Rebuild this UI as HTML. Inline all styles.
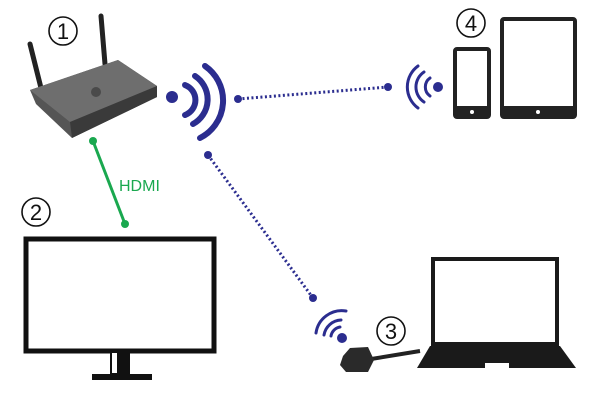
<!DOCTYPE html>
<html><head><meta charset="utf-8"><style>html,body{margin:0;padding:0;background:#fff}svg{display:block}</style></head>
<body>
<svg width="600" height="420" viewBox="0 0 600 420" xmlns="http://www.w3.org/2000/svg" font-family="Liberation Sans, sans-serif">
<g fill="none" stroke="#111" stroke-width="1.6">
<circle cx="63" cy="31" r="14"/><circle cx="36" cy="212" r="14"/><circle cx="391" cy="331" r="14"/><circle cx="471" cy="23" r="14"/>
</g>
<g font-size="22" text-anchor="middle" fill="#111">
<text x="63" y="39">1</text><text x="36" y="220">2</text><text x="391" y="339">3</text><text x="471" y="31">4</text>
</g>
<!-- router -->
<line x1="30" y1="44" x2="42" y2="92" stroke="#222" stroke-width="5" stroke-linecap="round"/>
<line x1="101" y1="16" x2="105" y2="64" stroke="#222" stroke-width="5" stroke-linecap="round"/>
<polygon points="30,90 118,60 157,86 157,97 72,138 36,104" fill="#555"/>
<polygon points="30,90 118,60 157,86 70,122" fill="#6e6e6e"/>
<polygon points="70,122 157,86 157,97 72,138" fill="#3a3a3a"/>
<circle cx="96" cy="92" r="5" fill="#4a4a4a"/>
<!-- HDMI -->
<line x1="93" y1="141" x2="125" y2="224" stroke="#1aa84f" stroke-width="3"/>
<circle cx="93" cy="141" r="4" fill="#1aa84f"/><circle cx="125" cy="224" r="4" fill="#1aa84f"/>
<text x="119" y="191" font-size="16" fill="#1aa84f">HDMI</text>
<!-- big wifi -->
<g fill="none" stroke="#2b2d8f" stroke-width="6" stroke-linecap="round">
<circle cx="172" cy="97" r="6" fill="#2b2d8f" stroke="none"/>
<path d="M185,85 A16,16 0 0 1 185,115"/>
<path d="M195,76 A28,28 0 0 1 193,124"/>
<path d="M205,66 A42,42 0 0 1 200,138"/>
</g>
<g stroke="#2b2d8f" stroke-width="3" stroke-dasharray="2 2.5" fill="none">
<line x1="238" y1="99" x2="388" y2="87"/>
<line x1="208" y1="155" x2="313" y2="298"/>
</g>
<g fill="#2b2d8f">
<circle cx="238" cy="99" r="4"/><circle cx="388" cy="87" r="4"/>
<circle cx="208" cy="155" r="4"/><circle cx="313" cy="298" r="4"/>
<circle cx="438" cy="87" r="5"/><circle cx="342" cy="338" r="5"/>
</g>
<g fill="none" stroke="#2b2d8f" stroke-width="3" stroke-linecap="round">
<path d="M430,78 A11,11 0 0 0 430,96"/>
<path d="M424,72 A18,18 0 0 0 424,102"/>
<path d="M418,66 A26,26 0 0 0 418,108"/>
<path d="M331,336 A11,11 0 0 1 340,327"/>
<path d="M324,335 A18,18 0 0 1 341,320"/>
<path d="M316,333 A26,26 0 0 1 346,311"/>
</g>
<rect x="455" y="49" width="34" height="68" rx="2" fill="none" stroke="#222" stroke-width="4"/>
<rect x="455" y="106" width="34" height="11" fill="#222"/><circle cx="472" cy="112" r="2" fill="#fff"/>
<rect x="502" y="19" width="73" height="98" rx="2" fill="none" stroke="#222" stroke-width="4"/>
<rect x="502" y="106" width="73" height="11" fill="#222"/><circle cx="538" cy="112" r="2" fill="#fff"/>
<rect x="26" y="239" width="188" height="112" fill="none" stroke="#111" stroke-width="5"/>
<rect x="110" y="353" width="20" height="22" fill="#111"/>
<rect x="112" y="353" width="5" height="20" fill="#fff"/>
<rect x="92" y="374" width="60" height="6" fill="#111"/>
<rect x="433" y="259" width="124" height="85" fill="none" stroke="#1a1a1a" stroke-width="4"/>
<polygon points="430,346 560,346 576,368 417,368" fill="#1a1a1a"/>
<rect x="485" y="363" width="24" height="5" fill="#fff"/>
<line x1="365" y1="360" x2="420" y2="351" stroke="#222" stroke-width="4"/>
<polygon points="343,356 350,348 368,347 374,360 368,372 346,372 340,365" fill="#2a2a2a"/>
</svg>
</body></html>
